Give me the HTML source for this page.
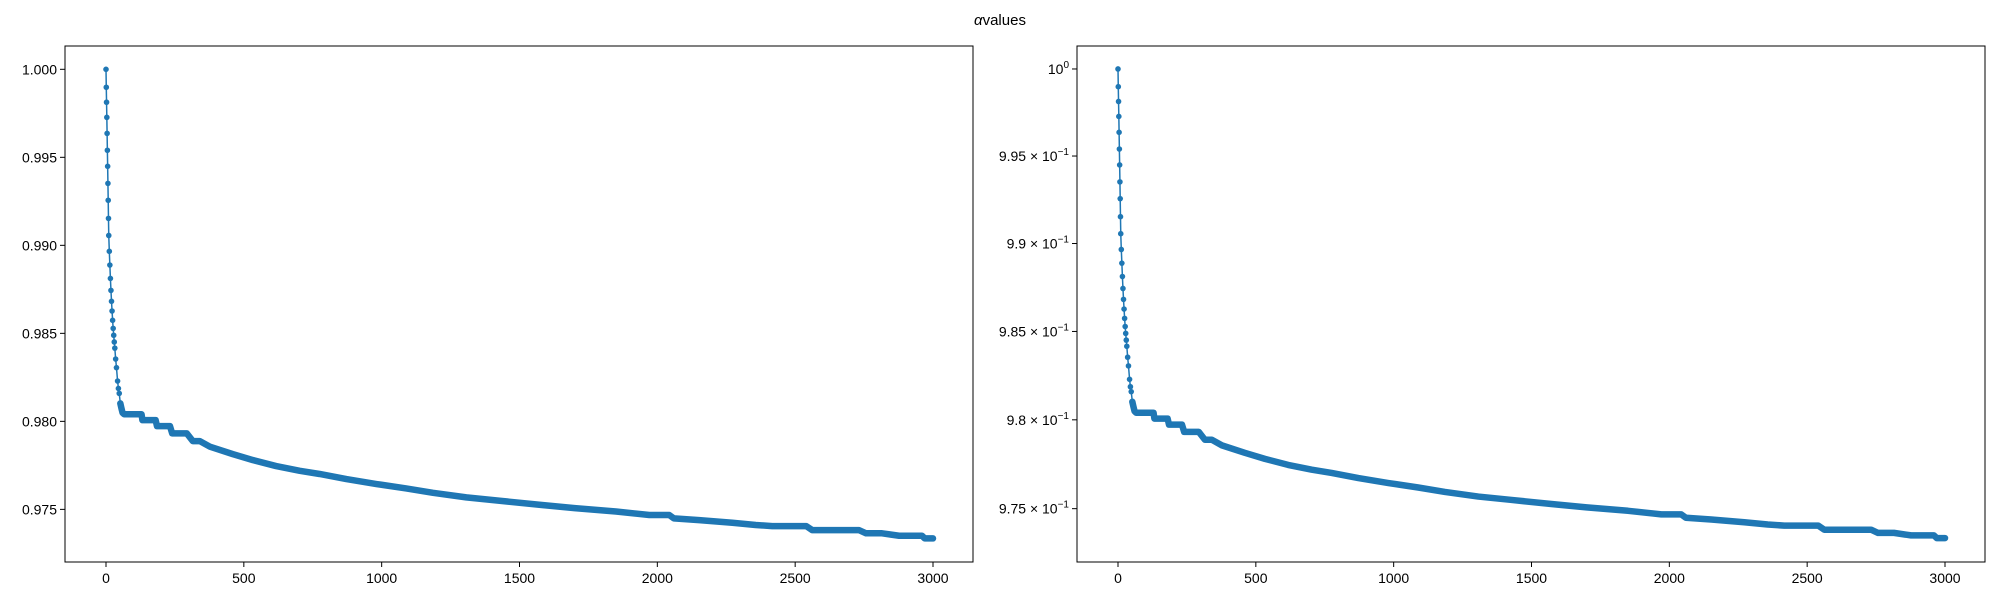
<!DOCTYPE html>
<html><head><meta charset="utf-8"><style>
body{margin:0;background:#fff;}
svg text{font-family:"Liberation Sans","DejaVu Sans",sans-serif;font-size:14px;fill:#000;}
</style></head><body>
<svg id="chart" width="2000" height="600" viewBox="0 0 2000 600" xmlns="http://www.w3.org/2000/svg">
<rect width="2000" height="600" fill="#fff"/>
<text x="1000" y="25" text-anchor="middle" style="font-size:15px"><tspan font-style="italic">α</tspan>values</text>
</svg>
<script>
const iters = [0,1,2,3,4,5,6,7,8,9,10,12,14,16,18,20,22,24,26,28,30,32,35,38,42,45,48,52,56,60,66,87,129,132,180,185,232,240,293,315,340,377,460,533,617,703,775,872,981,1089,1186,1307,1428,1572,1700,1850,1971,2043,2060,2152,2272,2357,2417,2540,2562,2732,2757,2815,2877,2960,2970,3000];
const alphas = [1.0,0.99898,0.99813,0.99727,0.99636,0.99540,0.99449,0.99352,0.99256,0.99153,0.99056,0.98966,0.98888,0.98812,0.98744,0.98682,0.98627,0.98574,0.98528,0.98489,0.98451,0.98416,0.98354,0.98305,0.98229,0.98187,0.98159,0.98102,0.98074,0.98049,0.98040,0.98040,0.98040,0.98007,0.98007,0.97973,0.97973,0.97932,0.97932,0.97888,0.97888,0.97856,0.97814,0.97780,0.97746,0.97719,0.97701,0.97672,0.97644,0.97619,0.97594,0.97568,0.97549,0.97526,0.97507,0.97488,0.97468,0.97468,0.97449,0.97439,0.97424,0.97411,0.97405,0.97405,0.97382,0.97382,0.97364,0.97364,0.97350,0.97350,0.97335,0.97335];
const xTicks = [0,500,1000,1500,2000,2500,3000];
const yTicksLin = [0.975,0.980,0.985,0.990,0.995,1.000];
const yLabelsLin = ["0.975","0.980","0.985","0.990","0.995","1.000"];
const yLabelsLogMant = ["9.75","9.8","9.85","9.9","9.95"];

const NS="http://www.w3.org/2000/svg";
const svgEl=document.getElementById('chart');
function mk(tag,attrs,parent){const e=document.createElementNS(NS,tag);for(const k in attrs)e.setAttribute(k,attrs[k]);(parent||svgEl).appendChild(e);return e;}

const plotTop=46,plotBot=562,panelW=908;
const yMin=0.97201,yMax=1.001324;
function drawPanel(left,isLog,name){
  const g=mk('g',{});
  
  
  const xS=v=>left+41+v*(827/3000);
  let yS;
  if(isLog){const a=Math.log10(yMin),b=Math.log10(yMax);yS=v=>plotBot-(Math.log10(v)-a)/(b-a)*(plotBot-plotTop);}
  else yS=v=>plotBot-(v-yMin)/(yMax-yMin)*(plotBot-plotTop);
  const tailStart=iters.indexOf(66);
  const pts=iters.map((it,i)=>xS(it).toFixed(2)+','+yS(alphas[i]).toFixed(2));
  const band=mk('polyline',{points:pts.slice(tailStart-3).join(' '),fill:'none',stroke:'#1f77b4','stroke-width':6.5,'stroke-linecap':'round','stroke-linejoin':'round'},g);
  
  
  const line=mk('polyline',{points:pts.join(' '),fill:'none',stroke:'#1f77b4','stroke-width':1.5},g);
  
  
  iters.forEach((it,i)=>{
    const c=mk('circle',{cx:xS(it),cy:yS(alphas[i]),r:2.8,fill:'#1f77b4'},g);
    
    
  });
  const fr=mk('rect',{x:left,y:plotTop,width:panelW,height:plotBot-plotTop,fill:'none',stroke:'#000','stroke-width':1},g);
  
  
  xTicks.forEach(t=>{
    const x=xS(t);
    const tk=mk('line',{x1:x,x2:x,y1:plotBot,y2:plotBot+5,stroke:'#000'},g);
    
    
    const tx=mk('text',{x:x,y:plotBot+21,'text-anchor':'middle'},g);
    tx.textContent=t;
    
    
  });
  yTicksLin.forEach((t,i)=>{
    const y=yS(t);
    const tk=mk('line',{x1:left-5,x2:left,y1:y,y2:y,stroke:'#000'},g);
    
    
    const tx=mk('text',{x:left-8,y:y+5,'text-anchor':'end'},g);
    
    
    if(!isLog){tx.textContent=yLabelsLin[i];}
    else if(i===5){tx.innerHTML='10<tspan dy="-6" style="font-size:10px">0</tspan>';}
    else{tx.innerHTML=yLabelsLogMant[i]+' × 10<tspan dy="-6" style="font-size:10px">−1</tspan>';}
  });
}
drawPanel(65,false,'linear-axes');
drawPanel(1077,true,'log-axes');
</script>
</body></html>
